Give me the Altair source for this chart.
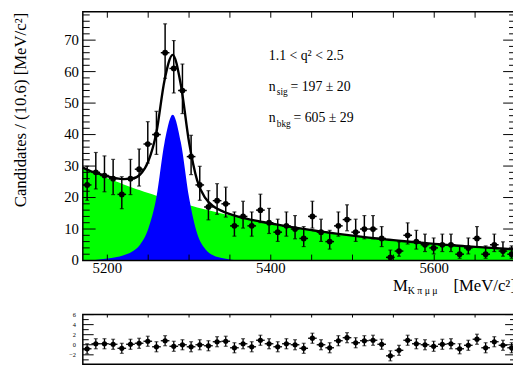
import altair as alt
import pandas as pd

FONT = "Liberation Serif"

# ---------------- data ----------------
mass_min = 5170.0
mass_max = 5700.0
bin_width = 10.6

counts = [24, 28, 27, 26, 21, 26, 29, 37, 40, 66,
          61, 54, 33, 24, 17, 19, 18, 11, 14, 11,
          16, 12, 9, 11, 10, 7, 14, 9, 6, 11,
          13, 9, 10, 10, 7, 1, 3, 8, 6, 5,
          4, 5, 5, 2, 4, 7, 2, 5, 3, 2]

err_low = [4.87, 5.27, 5.17, 5.07, 4.55, 5.07, 5.36, 6.06, 6.30, 8.11,
           7.79, 7.33, 5.72, 4.87, 4.09, 4.33, 4.21, 3.27, 3.71, 3.27,
           3.97, 3.42, 2.94, 3.27, 3.11, 2.58, 3.71, 2.94, 2.38, 3.27,
           3.57, 2.94, 3.11, 3.11, 2.58, 0.83, 1.63, 2.77, 2.38, 2.16,
           1.91, 2.16, 2.16, 1.29, 1.91, 2.58, 1.29, 2.16, 1.63, 1.29]

err_high = [5.92, 6.31, 6.22, 6.12, 5.62, 6.12, 6.41, 7.10, 7.38, 9.17,
            8.86, 8.40, 6.77, 5.92, 5.18, 5.41, 5.30, 4.42, 4.82, 4.42,
            5.06, 4.56, 4.12, 4.42, 4.27, 3.77, 4.82, 4.12, 3.58, 4.42,
            4.69, 4.12, 4.27, 4.27, 3.77, 2.30, 2.92, 3.96, 3.58, 3.38,
            3.16, 3.38, 3.38, 2.64, 3.16, 3.77, 2.64, 3.38, 2.92, 2.64]

pulls = [-0.8, 0.2, 0.2, 0.1, -0.7, 0.1, 0.3, 0.7, -0.4, 0.8,
         -0.3, 0.0, -0.4, 0.0, -0.2, 0.6, 0.7, -0.6, 0.2, -0.4,
         0.9, 0.2, -0.4, 0.2, 0.0, -0.7, 1.3, 0.0, -0.6, 0.8,
         1.4, 0.4, 0.8, 0.9, 0.1, -2.2, -1.1, 0.9, 0.2, 0.0,
         -0.3, 0.1, 0.2, -0.8, -0.1, 1.1, -0.6, 0.6, -0.1, -0.6]

curve_mass = list(range(5170, 5701, 10))
bkg_curve = [29.50, 28.34, 27.23, 26.16, 25.14, 24.15, 23.20, 22.30, 21.42, 20.58,
             19.77, 19.00, 18.25, 17.54, 16.85, 16.19, 15.55, 14.95, 14.36, 13.80,
             13.26, 12.74, 12.24, 11.76, 11.30, 10.85, 10.43, 10.02, 9.63, 9.25,
             8.89, 8.54, 8.20, 7.88, 7.57, 7.27, 6.99, 6.72, 6.45, 6.20,
             5.96, 5.72, 5.50, 5.28, 5.08, 4.88, 4.68, 4.50, 4.32, 4.16,
             3.99, 3.84, 3.68, 3.54]
sig_curve = [0.0, 0.0, 0.3, 0.6, 1.0, 1.7, 2.8, 5.0, 10.0, 20.0,
             37.5, 46.3, 37.5, 20.0, 8.5, 3.6, 1.6, 0.8, 0.35, 0.15,
             0.05, 0, 0, 0, 0, 0, 0, 0, 0, 0,
             0, 0, 0, 0, 0, 0, 0, 0, 0, 0,
             0, 0, 0, 0, 0, 0, 0, 0, 0, 0,
             0, 0, 0, 0]

y_major = [0, 10, 20, 30, 40, 50, 60, 70]
y_minor = [2, 4, 6, 8, 12, 14, 16, 18, 22, 24, 26, 28, 32, 34, 36, 38,
           42, 44, 46, 48, 52, 54, 56, 58, 62, 64, 66, 68, 72, 74, 76, 78]
x_major = [5200, 5250, 5300, 5350, 5400, 5450, 5500, 5550, 5600, 5650]
x_labels = [5200, 5400, 5600]
p_labels = [-2, 0, 2, 4, 6]
p_minor = [-3, -1, 1, 3, 5]

# ---------------- geometry (pixels inside the plot area) ----------------
Y_TOP = 79.0
UP_H = 253.0
LO_TOP_PX = 308.0
PULL_PX = 5.12
PLOT_H = 358.5

up_px = UP_H / Y_TOP
y_dom = [-(PLOT_H - UP_H) / up_px, Y_TOP]
p_dom = [6 - (PLOT_H - LO_TOP_PX) / PULL_PX, 6 + LO_TOP_PX / PULL_PX]
p_bottom = p_dom[0]

# ---------------- tables ----------------
centers = [mass_min + bin_width * (i + 0.5) for i in range(len(counts))]
pts = pd.DataFrame({
    "m": centers,
    "n": counts,
    "lo": [c - e for c, e in zip(counts, err_low)],
    "hi": [c + e for c, e in zip(counts, err_high)],
    "xlo": [m - bin_width / 2 for m in centers],
    "xhi": [m + bin_width / 2 for m in centers],
    "pull": pulls,
    "plo": [p - 1 for p in pulls],
    "phi": [p + 1 for p in pulls],
})
curves = pd.DataFrame({
    "m": curve_mass,
    "bkg": bkg_curve,
    "sig": sig_curve,
    "tot": [b + s for b, s in zip(bkg_curve, sig_curve)],
    "base": [0.0] * len(curve_mass),
})

XS = alt.Scale(domain=[mass_min, mass_max], nice=False, zero=False)
YS = alt.Scale(domain=y_dom, nice=False, zero=False)
PS = alt.Scale(domain=p_dom, nice=False, zero=False)


def XE(f):
    return alt.X(f, scale=XS, axis=None)


def YE(f):
    return alt.Y(f, scale=YS, axis=None)


def PE(f):
    return alt.Y(f, scale=PS, axis=None)


def text_layer(txt, x, y, size, align="left", angle=0):
    return alt.Chart(alt.Data(values=[{"t": txt}])).mark_text(
        align=align, baseline="alphabetic", font=FONT, fontSize=size,
        color="black", angle=angle
    ).encode(x=alt.value(x), y=alt.value(y), text="t:N")


def rule(df, **enc):
    return alt.Chart(df).mark_rule(color="black", strokeWidth=1).encode(**enc)


# ---------------- frames ----------------
frames_up = alt.Chart(pd.DataFrame({"a": [mass_min], "b": [mass_max], "t": [Y_TOP], "z": [0.0]})).mark_rect(
    fillOpacity=0, stroke="black", strokeWidth=1.5).encode(
    x=XE("a:Q"), x2="b:Q", y=YE("t:Q"), y2="z:Q")
frames_lo = alt.Chart(pd.DataFrame({"a": [mass_min], "b": [mass_max], "t": [6.0], "z": [p_bottom]})).mark_rect(
    fillOpacity=0, stroke="black", strokeWidth=1.5).encode(
    x=XE("a:Q"), x2="b:Q", y=PE("t:Q"), y2="z:Q")

# ---------------- upper panel ----------------
green = alt.Chart(curves).mark_area(color="#00ff00", interpolate="monotone").encode(
    x=XE("m:Q"), y=YE("bkg:Q"), y2="base:Q")
blue = alt.Chart(curves).mark_area(color="#0000ff", interpolate="monotone").encode(
    x=XE("m:Q"), y=YE("sig:Q"), y2="base:Q")
total = alt.Chart(curves).mark_line(color="black", strokeWidth=2.4, interpolate="monotone").encode(
    x=XE("m:Q"), y=YE("tot:Q"))

vbar = alt.Chart(pts).mark_rule(color="black", strokeWidth=1.5).encode(
    x=XE("m:Q"), y=YE("lo:Q"), y2="hi:Q")
hbar = alt.Chart(pts).mark_rule(color="black", strokeWidth=1.5).encode(
    x=XE("xlo:Q"), x2="xhi:Q", y=YE("n:Q"))
cap_hi = alt.Chart(pts).mark_tick(orient="horizontal", size=4, thickness=1.2, color="black").encode(
    x=XE("m:Q"), y=YE("hi:Q"))
cap_lo = alt.Chart(pts).mark_tick(orient="horizontal", size=4, thickness=1.2, color="black").encode(
    x=XE("m:Q"), y=YE("lo:Q"))
dots = alt.Chart(pts).mark_circle(size=34, color="black", opacity=1).encode(
    x=XE("m:Q"), y=YE("n:Q"))

ymaj = pd.DataFrame({"v": y_major})
ymin = pd.DataFrame({"v": y_minor})
xt_up = pd.DataFrame({"v": x_major, "b": [0.0] * len(x_major), "t": [Y_TOP] * len(x_major)})
up_ticks = [
    rule(ymaj, y=YE("v:Q"), x=alt.value(0), x2=alt.value(13)),
    rule(ymin, y=YE("v:Q"), x=alt.value(0), x2=alt.value(7)),
    rule(ymaj, y=YE("v:Q"), x=alt.value({"expr": "width - 13"}), x2=alt.value({"expr": "width"})),
    rule(ymin, y=YE("v:Q"), x=alt.value({"expr": "width - 7"}), x2=alt.value({"expr": "width"})),
    alt.Chart(xt_up).mark_rule(color="black", strokeWidth=1, y2Offset=-6).encode(
        x=XE("v:Q"), y=YE("b:Q"), y2="b:Q"),
    alt.Chart(xt_up).mark_rule(color="black", strokeWidth=1, y2Offset=6).encode(
        x=XE("v:Q"), y=YE("t:Q"), y2="t:Q"),
]

ylab = alt.Chart(ymaj).mark_text(align="right", baseline="middle", font=FONT, fontSize=15,
                                 color="black").encode(
    y=YE("v:Q"), x=alt.value(-4), text=alt.Text("v:Q", format="d"))
xlab = alt.Chart(pd.DataFrame({"v": x_labels, "b": [0.0] * len(x_labels)})).mark_text(
    align="center", baseline="top", font=FONT, fontSize=15, color="black", dy=1).encode(
    x=XE("v:Q"), y=YE("b:Q"), text=alt.Text("v:Q", format="d"))

annot = [
    text_layer("1.1 < q² < 2.5", 189, 49, 14),
    text_layer("n", 189, 80, 14),
    text_layer("sig", 197, 85, 9.5),
    text_layer("= 197 ± 20", 211, 80, 14),
    text_layer("n", 189, 112, 14),
    text_layer("bkg", 197, 117, 9.5),
    text_layer("= 605 ± 29", 214, 112, 14),
    text_layer("Candidates / (10.6) [MeV/c²]", -58, 1, 17, align="right", angle=270),
    text_layer("M", {"expr": "width - 125"}, 284, 17),
    text_layer("K π μ μ", {"expr": "width - 110"}, 287, 10),
    text_layer("[MeV/c²]", {"expr": "width"}, 284, 17, align="right"),
]

# ---------------- lower panel ----------------
pv = alt.Chart(pts).mark_rule(color="black", strokeWidth=1.3).encode(
    x=XE("m:Q"), y=PE("plo:Q"), y2="phi:Q")
ph = alt.Chart(pts).mark_rule(color="black", strokeWidth=1.3).encode(
    x=XE("xlo:Q"), x2="xhi:Q", y=PE("pull:Q"))
pch = alt.Chart(pts).mark_tick(orient="horizontal", size=4, thickness=1.1, color="black").encode(
    x=XE("m:Q"), y=PE("phi:Q"))
pcl = alt.Chart(pts).mark_tick(orient="horizontal", size=4, thickness=1.1, color="black").encode(
    x=XE("m:Q"), y=PE("plo:Q"))
pdots = alt.Chart(pts).mark_circle(size=28, color="black", opacity=1).encode(
    x=XE("m:Q"), y=PE("pull:Q"))

pmaj = pd.DataFrame({"v": p_labels})
pmin = pd.DataFrame({"v": p_minor})
xt_lo = pd.DataFrame({"v": x_major, "t": [6.0] * len(x_major)})
lo_ticks = [
    rule(pmaj, y=PE("v:Q"), x=alt.value(0), x2=alt.value(11)),
    rule(pmin, y=PE("v:Q"), x=alt.value(0), x2=alt.value(6)),
    rule(pmaj, y=PE("v:Q"), x=alt.value({"expr": "width - 11"}), x2=alt.value({"expr": "width"})),
    rule(pmin, y=PE("v:Q"), x=alt.value({"expr": "width - 6"}), x2=alt.value({"expr": "width"})),
    alt.Chart(xt_lo).mark_rule(color="black", strokeWidth=1, y2Offset=3).encode(
        x=XE("v:Q"), y=PE("t:Q"), y2="t:Q"),
]
plab = alt.Chart(pmaj).mark_text(align="right", baseline="middle", font=FONT, fontSize=6.5,
                                 color="black").encode(
    y=PE("v:Q"), x=alt.value(-7), text=alt.Text("v:Q", format="d"))

chart = alt.layer(
    green, blue, total, vbar, hbar, cap_hi, cap_lo, dots,
    *up_ticks, ylab, xlab, frames_up, *annot,
    pv, ph, pch, pcl, pdots, *lo_ticks, plab, frames_lo,
).resolve_scale(y="independent").properties(
    width=513, height=360,
    autosize=alt.AutoSizeParams(type="fit", contains="padding"),
    padding={"left": 4, "right": -8, "top": 0, "bottom": 0},
).configure_view(stroke="transparent")

chart.save("out.html", embed_options={"renderer": "svg", "actions": False})
